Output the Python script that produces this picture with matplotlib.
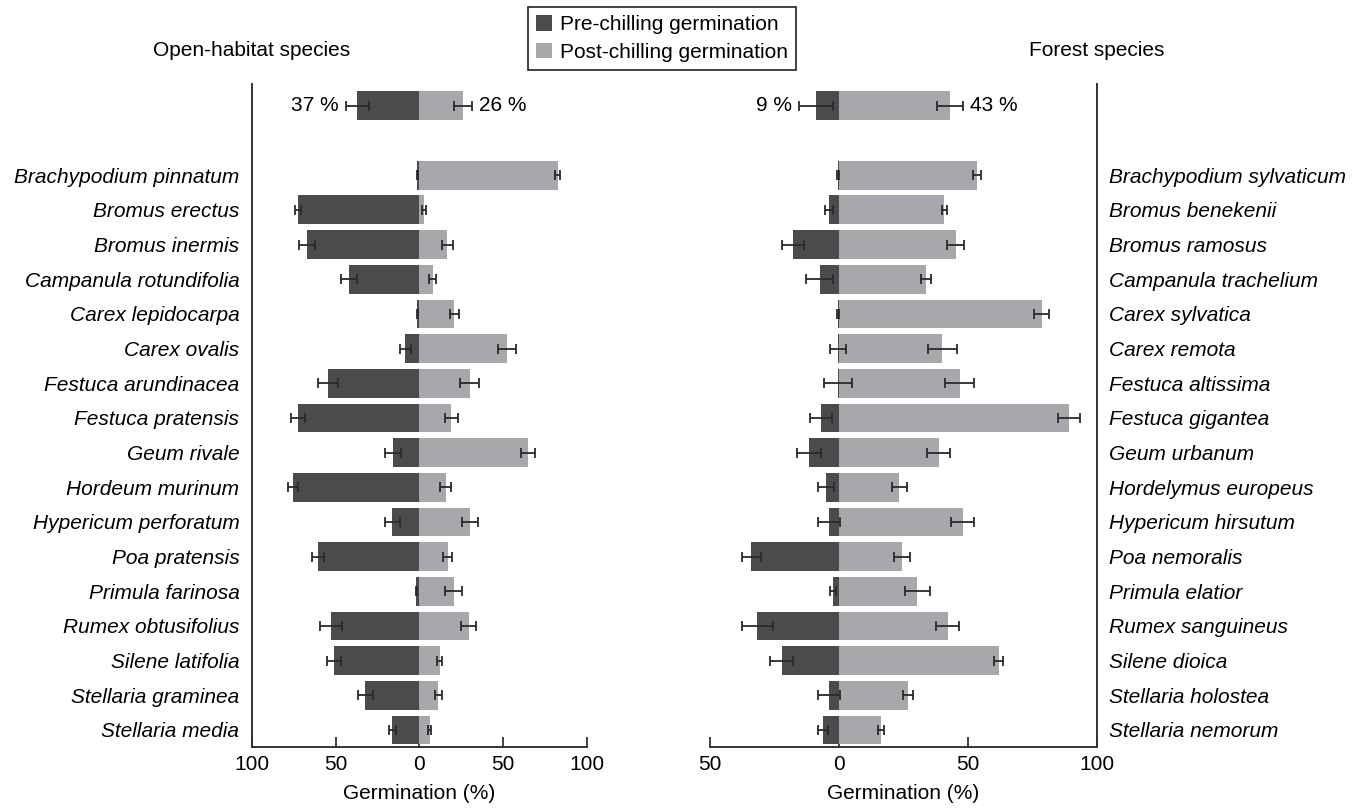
import matplotlib
matplotlib.use("Agg")
import matplotlib.pyplot as plt
from matplotlib.patches import Patch
import numpy as np

plt.rcParams["font.family"] = ["Liberation Sans", "DejaVu Sans"]

# values (germination %, mean and error)
open_species = ["Brachypodium pinnatum", "Bromus erectus", "Bromus inermis",
                "Campanula rotundifolia", "Carex lepidocarpa", "Carex ovalis",
                "Festuca arundinacea", "Festuca pratensis", "Geum rivale",
                "Hordeum murinum", "Hypericum perforatum", "Poa pratensis",
                "Primula farinosa", "Rumex obtusifolius", "Silene latifolia",
                "Stellaria graminea", "Stellaria media"]
open_pre = [1.2, 72.6, 67.2, 42.0, 1.2, 8.4, 54.6, 72.6, 15.6, 75.6, 16.2,
            60.6, 1.8, 52.8, 51.0, 32.4, 16.2]
open_pre_err = [0.5, 1.6, 4.8, 4.9, 0.5, 3.4, 5.8, 4.3, 4.7, 3.0, 4.4,
                3.6, 0.5, 6.4, 4.3, 4.5, 2.1]
open_post = [82.6, 2.8, 16.6, 7.8, 20.8, 52.2, 30.0, 19.0, 64.8, 15.6, 30.0,
             16.8, 20.4, 29.4, 12.0, 11.2, 6.0]
open_post_err = [1.5, 1.1, 3.3, 2.0, 2.6, 5.2, 5.7, 4.0, 4.3, 3.1, 4.8,
                 2.9, 5.2, 4.4, 1.7, 2.1, 0.9]

forest_species = ["Brachypodium sylvaticum", "Bromus benekenii", "Bromus ramosus",
                  "Campanula trachelium", "Carex sylvatica", "Carex remota",
                  "Festuca altissima", "Festuca gigantea", "Geum urbanum",
                  "Hordelymus europeus", "Hypericum hirsutum", "Poa nemoralis",
                  "Primula elatior", "Rumex sanguineus", "Silene dioica",
                  "Stellaria holostea", "Stellaria nemorum"]
forest_pre = [0.3, 3.9, 17.9, 7.4, 0.3, 0.3, 0.3, 7.0, 11.7, 5.1, 3.9,
              33.9, 2.3, 31.6, 22.2, 3.9, 6.2]
forest_pre_err = [0.3, 1.6, 4.3, 5.2, 0.3, 3.1, 5.5, 4.2, 4.6, 3.1, 4.3,
                  3.6, 1.0, 6.0, 4.4, 4.3, 1.9]
forest_post = [53.6, 40.9, 45.2, 33.9, 78.7, 40.1, 46.8, 89.2, 38.6, 23.4, 47.9,
               24.5, 30.4, 42.1, 61.9, 26.9, 16.4]
forest_post_err = [1.6, 1.1, 3.4, 1.9, 2.9, 5.5, 5.5, 4.2, 4.3, 2.8, 4.6,
                   3.1, 4.9, 4.3, 1.7, 1.9, 1.1]

# group means shown above the species bars
open_mean = [37, 26]
open_mean_err = [7.0, 5.6]
forest_mean = [9, 43]
forest_mean_err = [6.6, 5.1]

DARK = "#4a4b4d"
LIGHT = "#a7a8ab"
ERR = "#2a2a2a"
FS = 15


def draw_panel(ax, pre, pre_err, post, post_err, mean, mean_err):
    n = len(pre)
    y = np.arange(n)[::-1].astype(float)
    ym = n + 1
    pre_x = -np.array(pre)
    ax.barh(y, pre_x, height=0.83, color=DARK, zorder=2)
    ax.barh(y, post, height=0.83, color=LIGHT, zorder=2)
    ax.barh([ym], [-mean[0]], height=0.83, color=DARK, zorder=2)
    ax.barh([ym], [mean[1]], height=0.83, color=LIGHT, zorder=2)
    kw = dict(fmt="none", ecolor=ERR, elinewidth=1.3, capsize=3.6,
              capthick=1.3, zorder=3)
    ax.errorbar(pre_x, y, xerr=pre_err, **kw)
    ax.errorbar(post, y, xerr=post_err, **kw)
    ax.errorbar([-mean[0], mean[1]], [ym, ym], xerr=mean_err, **kw)
    ax.annotate(f"{mean[0]} %", (-mean[0] - mean_err[0], ym),
                xytext=(-5, 0), textcoords="offset points",
                ha="right", va="center", fontsize=FS)
    ax.annotate(f"{mean[1]} %", (mean[1] + mean_err[1], ym),
                xytext=(5, 0), textcoords="offset points",
                ha="left", va="center", fontsize=FS)
    ax.set_ylim(-0.49, ym + 0.63)
    ax.set_yticks(y)
    ax.spines["top"].set_visible(False)
    for s in ax.spines.values():
        s.set_linewidth(1.4)
        s.set_color("#333333")
    ax.tick_params(axis="x", direction="in", length=7, width=1.3,
                   labelsize=FS, pad=6, color="#333333")
    ax.tick_params(axis="y", length=0, labelsize=FS, pad=9)
    ax.set_xlabel("Germination (%)", fontsize=FS, labelpad=7)
    return y


fig = plt.figure(figsize=(13.65, 8.1), dpi=100)
ax1 = fig.add_axes([0.1846, 0.0778, 0.2454, 0.8185])
ax2 = fig.add_axes([0.5201, 0.0778, 0.2835, 0.8185])

ax1.set_xlim(-100, 100)
draw_panel(ax1, open_pre, open_pre_err, open_post, open_post_err,
           open_mean, open_mean_err)
ax1.set_xticks([-100, -50, 0, 50, 100])
ax1.set_xticklabels(["100", "50", "0", "50", "100"])
ax1.set_yticklabels(open_species, fontstyle="italic")
ax1.spines["right"].set_visible(False)

ax2.set_xlim(-50, 100)
draw_panel(ax2, forest_pre, forest_pre_err, forest_post, forest_post_err,
           forest_mean, forest_mean_err)
ax2.set_xticks([-50, 0, 50, 100])
ax2.set_xticklabels(["50", "0", "50", "100"])
ax2.yaxis.tick_right()
ax2.set_yticklabels(forest_species, fontstyle="italic")
ax2.spines["left"].set_visible(False)

fig.text(252 / 1365, 1 - 50 / 810, "Open-habitat species", ha="center",
         va="center", fontsize=FS)
fig.text(1097 / 1365, 1 - 50 / 810, "Forest species", ha="center",
         va="center", fontsize=FS)

handles = [Patch(facecolor=DARK, edgecolor="none"),
           Patch(facecolor=LIGHT, edgecolor="none")]
leg = fig.legend(handles, ["Pre-chilling germination", "Post-chilling germination"],
                 loc="upper center", bbox_to_anchor=(662 / 1365, 1 - 7 / 810),
                 fontsize=FS, frameon=True, fancybox=False, framealpha=1,
                 handlelength=0.75, handleheight=0.75, handletextpad=0.4,
                 labelspacing=0.4, borderpad=0.4, borderaxespad=0)
leg.get_frame().set_edgecolor("#222222")
leg.get_frame().set_linewidth(1.2)

fig.savefig("out.png", dpi=100)
